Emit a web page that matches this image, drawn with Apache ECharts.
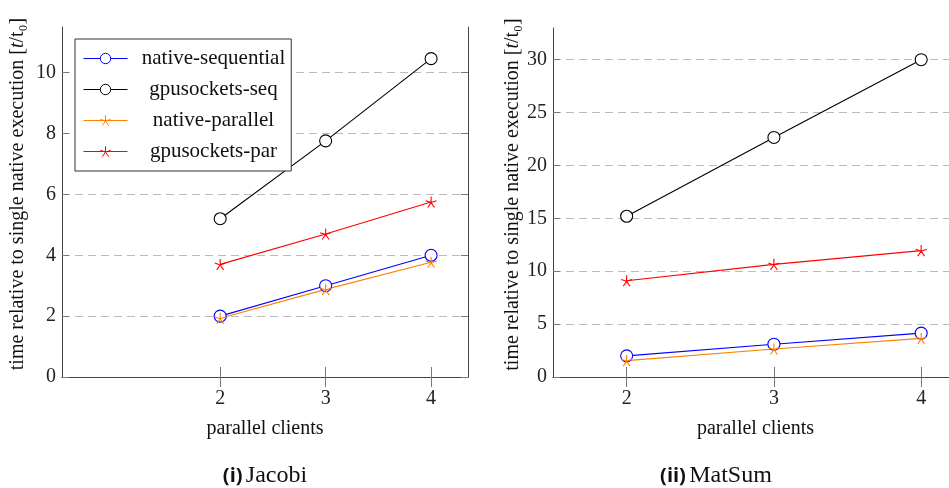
<!DOCTYPE html>
<html>
<head>
    <meta charset="utf-8">
    <title>Jacobi / MatSum</title>
    <script src="https://cdn.jsdelivr.net/npm/echarts@6/dist/echarts.min.js"></script>
</head>
<body style="margin:0;padding:0;background:#fff;">
<div id="main" style="margin:0px;padding:0px;width:949px;height:488px;"></div>
<script type="text/javascript">
    // 数据
    var clients = [2, 3, 4];
    var jacobiNativeSeq = [2.0, 3.0, 4.0];
    var jacobiGpuSeq = [5.2, 7.76, 10.46];
    var jacobiNativePar = [1.93, 2.88, 3.77];
    var jacobiGpuPar = [3.7, 4.7, 5.75];
    var matsumNativeSeq = [2.0, 3.1, 4.15];
    var matsumGpuSeq = [15.2, 22.65, 30.0];
    var matsumNativePar = [1.55, 2.65, 3.65];
    var matsumGpuPar = [9.1, 10.65, 11.95];
    var xTicks = [2, 3, 4];
    var jacobiYTicks = [0, 2, 4, 6, 8, 10];
    var matsumYTicks = [0, 5, 10, 15, 20, 25, 30];

    var serif = 'Liberation Serif';
    var starPath = 'path://M0 0L0 -10M0 0L9.51 -3.09M0 0L5.88 8.09M0 0L-5.88 8.09M0 0L-9.51 -3.09';

    function pairs(xs, ys) {
        return xs.map(function (x, i) { return [x, ys[i]]; });
    }

    var myChart = echarts.init(document.getElementById('main'));

    function xAxes(gridIndex, min, max) {
        var base = {
            gridIndex: gridIndex, type: 'value', min: min, max: max,
            axisLine: {show: true, lineStyle: {color: '#444', width: 1}},
            axisTick: {show: true, inside: true, length: 10, customValues: xTicks, lineStyle: {color: '#777'}},
            splitLine: {show: false}
        };
        var bottom = Object.assign({}, base, {
            position: 'bottom',
            axisLabel: {customValues: xTicks, fontFamily: serif, fontSize: 20, color: '#222', margin: 12},
            name: 'parallel clients', nameLocation: 'middle', nameGap: 42,
            nameTextStyle: {fontFamily: serif, fontSize: 20, color: '#111'}
        });
        var top = Object.assign({}, base, {position: 'top', axisLabel: {show: false}});
        return [bottom, top];
    }

    function yAxes(gridIndex, max, ticks, gap) {
        var base = {
            gridIndex: gridIndex, type: 'value', min: 0, max: max,
            axisLine: {show: true, lineStyle: {color: '#444', width: 1}},
            axisTick: {show: true, inside: true, length: 7, customValues: ticks, lineStyle: {color: '#777'}}
        };
        var left = Object.assign({}, base, {
            position: 'left',
            axisLabel: {customValues: ticks, fontFamily: serif, fontSize: 20, color: '#222', margin: 6},
            splitLine: {show: true, lineStyle: {color: '#bbb', type: [8, 5], width: 1}},
            name: 'time relative to single native execution [{i|t}/t₀]',
            nameLocation: 'middle', nameGap: gap,
            nameTextStyle: {
                fontFamily: serif, fontSize: 20, color: '#111', padding: [0, 0, 0, 16],
                rich: {i: {fontFamily: serif, fontStyle: 'italic', fontSize: 20}}
            }
        });
        var right = Object.assign({}, base, {position: 'right', axisLabel: {show: false}, splitLine: {show: false}});
        return [left, right];
    }

    function mkSeries(name, data, color, star, xi, yi) {
        return {
            name: name, type: 'line', data: data,
            xAxisIndex: xi, yAxisIndex: yi,
            lineStyle: {color: color, width: 1.1},
            symbolSize: star ? 11 : 12,
            symbol: star ? starPath : 'circle',
            itemStyle: star ? {color: 'none', borderColor: color, borderWidth: 1.1}
                            : {color: '#fff', borderColor: color, borderWidth: 1.1},
            emphasis: {disabled: true},
            animation: false
        };
    }

    var option = {
        backgroundColor: '#fff',
        animation: false,
        grid: [
            {left: 62, top: 27, width: 406, height: 350, outerBoundsMode: 'none'},
            {left: 553, top: 28, width: 405, height: 349, outerBoundsMode: 'none'}
        ],
        xAxis: xAxes(0, 0.5, 4.35).concat(xAxes(1, 1.5, 4.25)),
        yAxis: yAxes(0, 11.5, jacobiYTicks, 34).concat(yAxes(1, 33, matsumYTicks, 30)),
        legend: {
            orient: 'vertical', left: 75, top: 39,
            data: ['native-sequential', 'gpusockets-seq', 'native-parallel', 'gpusockets-par'],
            itemWidth: 44, itemHeight: 13, itemGap: 10,
            padding: [9, 6, 9, 8],
            borderColor: '#333', borderWidth: 1, backgroundColor: '#fff',
            lineStyle: {width: 1},
            itemStyle: {borderWidth: 1},
            formatter: '{c|{name}}',
            textStyle: {
                fontFamily: serif, fontSize: 21, color: '#111',
                rich: {c: {fontFamily: serif, fontSize: 21, width: 162, align: 'center'}}
            }
        },
        series: [
            mkSeries('native-sequential', pairs(clients, jacobiNativeSeq), '#0000ff', false, 0, 0),
            mkSeries('gpusockets-seq', pairs(clients, jacobiGpuSeq), '#000000', false, 0, 0),
            mkSeries('native-parallel', pairs(clients, jacobiNativePar), '#ff8000', true, 0, 0),
            mkSeries('gpusockets-par', pairs(clients, jacobiGpuPar), '#ff0000', true, 0, 0),
            mkSeries('native-sequential', pairs(clients, matsumNativeSeq), '#0000ff', false, 2, 2),
            mkSeries('gpusockets-seq', pairs(clients, matsumGpuSeq), '#000000', false, 2, 2),
            mkSeries('native-parallel', pairs(clients, matsumNativePar), '#ff8000', true, 2, 2),
            mkSeries('gpusockets-par', pairs(clients, matsumGpuPar), '#ff0000', true, 2, 2)
        ],
        graphic: [
            {
                type: 'text', x: 265, y: 476,
                style: {
                    text: '{b|(i)} {n|Jacobi}', align: 'center', verticalAlign: 'middle',
                    rich: {
                        b: {fontFamily: 'Open Sans', fontWeight: 'bold', fontSize: 20, fill: '#111'},
                        n: {fontFamily: serif, fontSize: 24, fill: '#111'}
                    }
                }
            },
            {
                type: 'text', x: 716, y: 476,
                style: {
                    text: '{b|(ii)} {n|MatSum}', align: 'center', verticalAlign: 'middle',
                    rich: {
                        b: {fontFamily: 'Open Sans', fontWeight: 'bold', fontSize: 20, fill: '#111'},
                        n: {fontFamily: serif, fontSize: 24, fill: '#111'}
                    }
                }
            }
        ]
    };

    myChart.setOption(option);
</script>
</body>
</html>
